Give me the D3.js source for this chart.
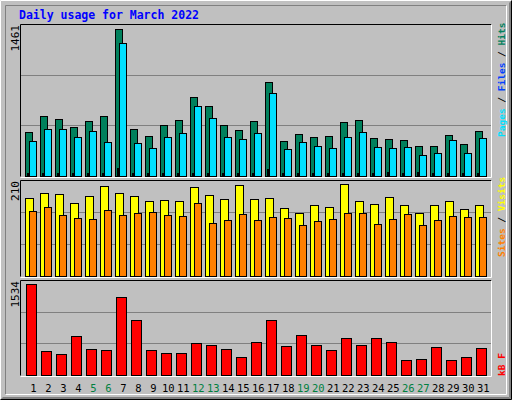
<!DOCTYPE html><html><head><meta charset="utf-8">
<script src="https://d3js.org/d3.v7.min.js"></script>
<style>body{margin:0;background:#fff}</style></head><body>
<script>
const days=d3.range(1,32);
const weekend=[5,6,12,13,19,20,26,27];
const hits=[439,598,568,489,548,598,1461,469,400,509,558,786,697,509,459,548,935,350,420,390,400,539,558,380,370,360,301,301,410,320,449];
const pages=[350,469,469,390,449,340,1322,330,281,390,430,697,578,390,370,430,826,271,340,301,281,390,439,291,281,291,211,231,360,231,380];
const files=[30,28,28,30,30,30,83,28,28,28,28,30,28,28,28,28,73,28,28,30,28,30,33,28,43,28,40,30,28,30,30];
const visits=[178,189,187,167,183,205,189,183,171,173,171,203,185,176,208,176,178,155,144,162,159,210,171,164,180,162,144,162,171,153,162];
const sites=[148,158,139,133,130,151,139,144,146,139,137,167,121,128,142,128,135,133,117,126,130,144,144,119,130,142,117,128,137,135,135];
const kbytes=[1534,409,358,661,442,426,1316,930,426,375,375,543,510,442,308,560,930,493,678,510,426,627,510,627,560,258,274,476,258,308,459];

const svg=d3.select("body").append("svg").attr("width",512).attr("height",400);
svg.append("rect").attr("width",512).attr("height",400).attr("fill","#C0C0C0");
svg.append("path").attr("d","M0.5,399.5V0.5H511.5").attr("stroke","#fff").attr("fill","none");
svg.append("path").attr("d","M0.5,399.5H511.5V0.5").attr("stroke","#000").attr("fill","none");
svg.append("path").attr("d","M1.5,398.5H510.5V1.5").attr("stroke","#808080").attr("fill","none");
svg.append("path").attr("d","M2.5,397.5H509.5V2.5").attr("stroke","#808080").attr("fill","none");
svg.append("path").attr("d","M5.5,394.5V5.5H506.5").attr("stroke","#808080").attr("fill","none");
svg.append("path").attr("d","M5.5,394.5H506.5V5.5").attr("stroke","#fff").attr("fill","none");
const mono="'DejaVu Sans Mono',monospace";
svg.append("text").attr("x",19).attr("y",19).text("Daily usage for March 2022")
 .attr("font-family",mono).attr("font-size",11.5).attr("font-weight","bold").attr("fill","#0000FF");

const x=d3.scaleLinear().domain([1,31]).range([25.3,475.3]);
function panel(top,base,max,maxLabel){
  svg.append("rect").attr("x",20.5).attr("y",top+0.5).attr("width",471).attr("height",base-top).attr("fill","#C0C0C0");
  svg.append("path").attr("d",`M20.5,${base+0.5}V${top+0.5}H491.5`).attr("stroke","#000").attr("fill","none");
  svg.append("path").attr("d",`M20.5,${base+1.5}H491.5V${top+0.5}`).attr("stroke","#fff").attr("fill","none");
  const h=base-top;
  [1/3,2/3].forEach(f=>svg.append("line").attr("x1",21).attr("x2",491).attr("y1",Math.round(base-h*f)+0.5).attr("y2",Math.round(base-h*f)+0.5).attr("stroke","#808080"));
  svg.append("text").attr("transform",`translate(19,${top+1}) rotate(-90)`).attr("text-anchor","end")
    .attr("font-family",mono).attr("font-size",11).attr("fill","#000").text(maxLabel);
}
function bars(data,y,off,w,color,base){
  svg.append("g").selectAll("rect").data(data).join("rect")
   .attr("x",(d,i)=>Math.round(x(i+1)+off)+0.5).attr("width",w)
   .attr("y",d=>Math.round(y(d))+0.5).attr("height",d=>base-Math.round(y(d)))
   .attr("fill",color).attr("stroke","#000");
}
panel(24,176,1461,"1461");
const y1=d3.scaleLinear().domain([0,1461]).range([176,29.3]);
bars(hits,y1,0,7,"#00805C",176);
bars(pages,y1,4,7,"#00E0FF",176);
bars(files,y1,2,1,"#0040FF",176);
panel(180,276,210,"210");
const y2=d3.scaleLinear().domain([0,210]).range([276,184.3]);
bars(visits,y2,0,8,"#FFFF00",276);
bars(sites,y2,4,7,"#FF8000",276);
panel(280,375,1534,"1534");
const y3=d3.scaleLinear().domain([0,1534]).range([375,284.3]);
bars(kbytes,y3,1,10,"#FF0000",375);

function rl(y0,parts){
  const t=svg.append("text").attr("transform",`translate(505,${y0}) rotate(-90)`).attr("text-anchor","start")
    .attr("font-family",mono).attr("font-size",9.5).attr("font-weight","bold");
  parts.forEach(p=>t.append("tspan").attr("fill",p[1]).text(p[0]));
}
rl(137,[["Pages","#00E0FF"],["/","#000"],["Files","#0040FF"],["/","#000"],["Hits","#00805C"]].map((p,i)=>p[0]==="/"?[" / ","#000"]:p));
rl(257,[["Sites","#FF8000"],[" / ","#000"],["Visits","#FFFF00"]]);
rl(376,[["kB F","#FF0000"]]);
svg.append("g").selectAll("text").data(days).join("text")
 .attr("x",d=>x(d)+8).attr("y",392).attr("text-anchor","middle")
 .attr("font-family",mono).attr("font-size",10.5)
 .attr("fill",d=>weekend.includes(d)?"#008040":"#000").text(d=>d);
</script></body></html>
